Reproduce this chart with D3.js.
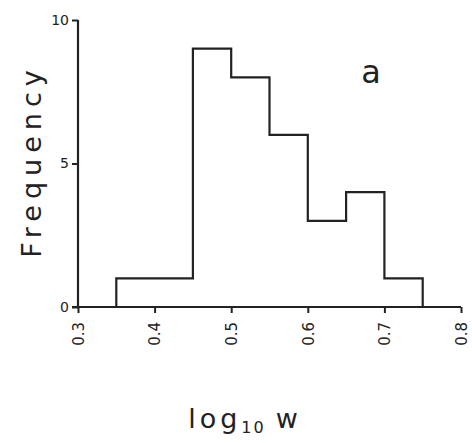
<!DOCTYPE html>
<html><head><meta charset="utf-8">
<script src="https://cdn.jsdelivr.net/npm/d3@7"></script>
<style>body{margin:0;background:#fff}svg{display:block}text{font-family:"DejaVu Sans",sans-serif;fill:#222}</style>
</head><body>
<script>
const binEdges = [0.35, 0.45, 0.50, 0.55, 0.60, 0.65, 0.70, 0.75];
const counts = [1, 9, 8, 6, 3, 4, 1];
const xTicks = [0.3, 0.4, 0.5, 0.6, 0.7, 0.8];
const yTicks = [0, 5, 10];

const W = 472, H = 443;
const svg = d3.select("body").append("svg").attr("width", W).attr("height", H);
const x = d3.scaleLinear().domain([0.3, 0.8]).range([78, 461]);
const y = d3.scaleLinear().domain([0, 10]).range([307, 20]);

const ink = "#222";
// y axis
const ya = svg.append("g").attr("transform", `translate(${x(0.3)},0)`)
  .call(d3.axisLeft(y).tickValues(yTicks).tickSize(6).tickPadding(3).tickFormat(d3.format("d")));
ya.select(".domain").attr("stroke", ink).attr("stroke-width", 2.2).attr("d", `M0,${y(10)}V${y(0)}`);
ya.selectAll(".tick line").attr("stroke", ink).attr("stroke-width", 2);
ya.selectAll(".tick text").style("font-size", "14px").attr("fill", ink);

// x axis
const xa = svg.append("g").attr("transform", `translate(0,${y(0)})`)
  .call(d3.axisBottom(x).tickValues(xTicks).tickSize(6).tickFormat(d3.format(".1f")));
xa.select(".domain").attr("stroke", ink).attr("stroke-width", 2.2).attr("d", `M${x(0.3)-6},0H${x(0.8)}`);
xa.selectAll(".tick line").attr("stroke", ink).attr("stroke-width", 2);
xa.selectAll(".tick text").style("font-size", "15px").attr("fill", ink)
  .attr("transform", "rotate(-90)").attr("text-anchor", "end")
  .attr("x", -15).attr("y", 0).attr("dy", "0.35em");

// histogram outline
const pts = [];
counts.forEach((c, i) => {
  pts.push([x(binEdges[i]), y(c)]);
  pts.push([x(binEdges[i + 1]), y(c)]);
});
const path = [[x(binEdges[0]), y(0)], ...pts, [x(binEdges[binEdges.length - 1]), y(0)]];
svg.append("path").attr("d", d3.line()(path)).attr("fill", "none")
  .attr("stroke", ink).attr("stroke-width", 2.2).attr("stroke-linejoin", "miter");

// titles
svg.append("text").attr("transform", `translate(41,161) rotate(-90)`)
  .attr("text-anchor", "middle").style("font-size", "27px").style("letter-spacing", "6px")
  .text("Frequency");

const xt = svg.append("text").attr("x", 245).attr("y", 428).attr("text-anchor", "middle")
  .style("font-size", "27px").style("letter-spacing", "4px");
xt.append("tspan").text("log");
xt.append("tspan").attr("dy", 5).style("font-size", "16px").style("letter-spacing", "2px").text("10");
xt.append("tspan").attr("dy", -5).attr("dx", 10).text("w");

svg.append("text").attr("x", 371).attr("y", 83).attr("text-anchor", "middle")
  .style("font-size", "32px").text("a");
</script>
</body></html>
